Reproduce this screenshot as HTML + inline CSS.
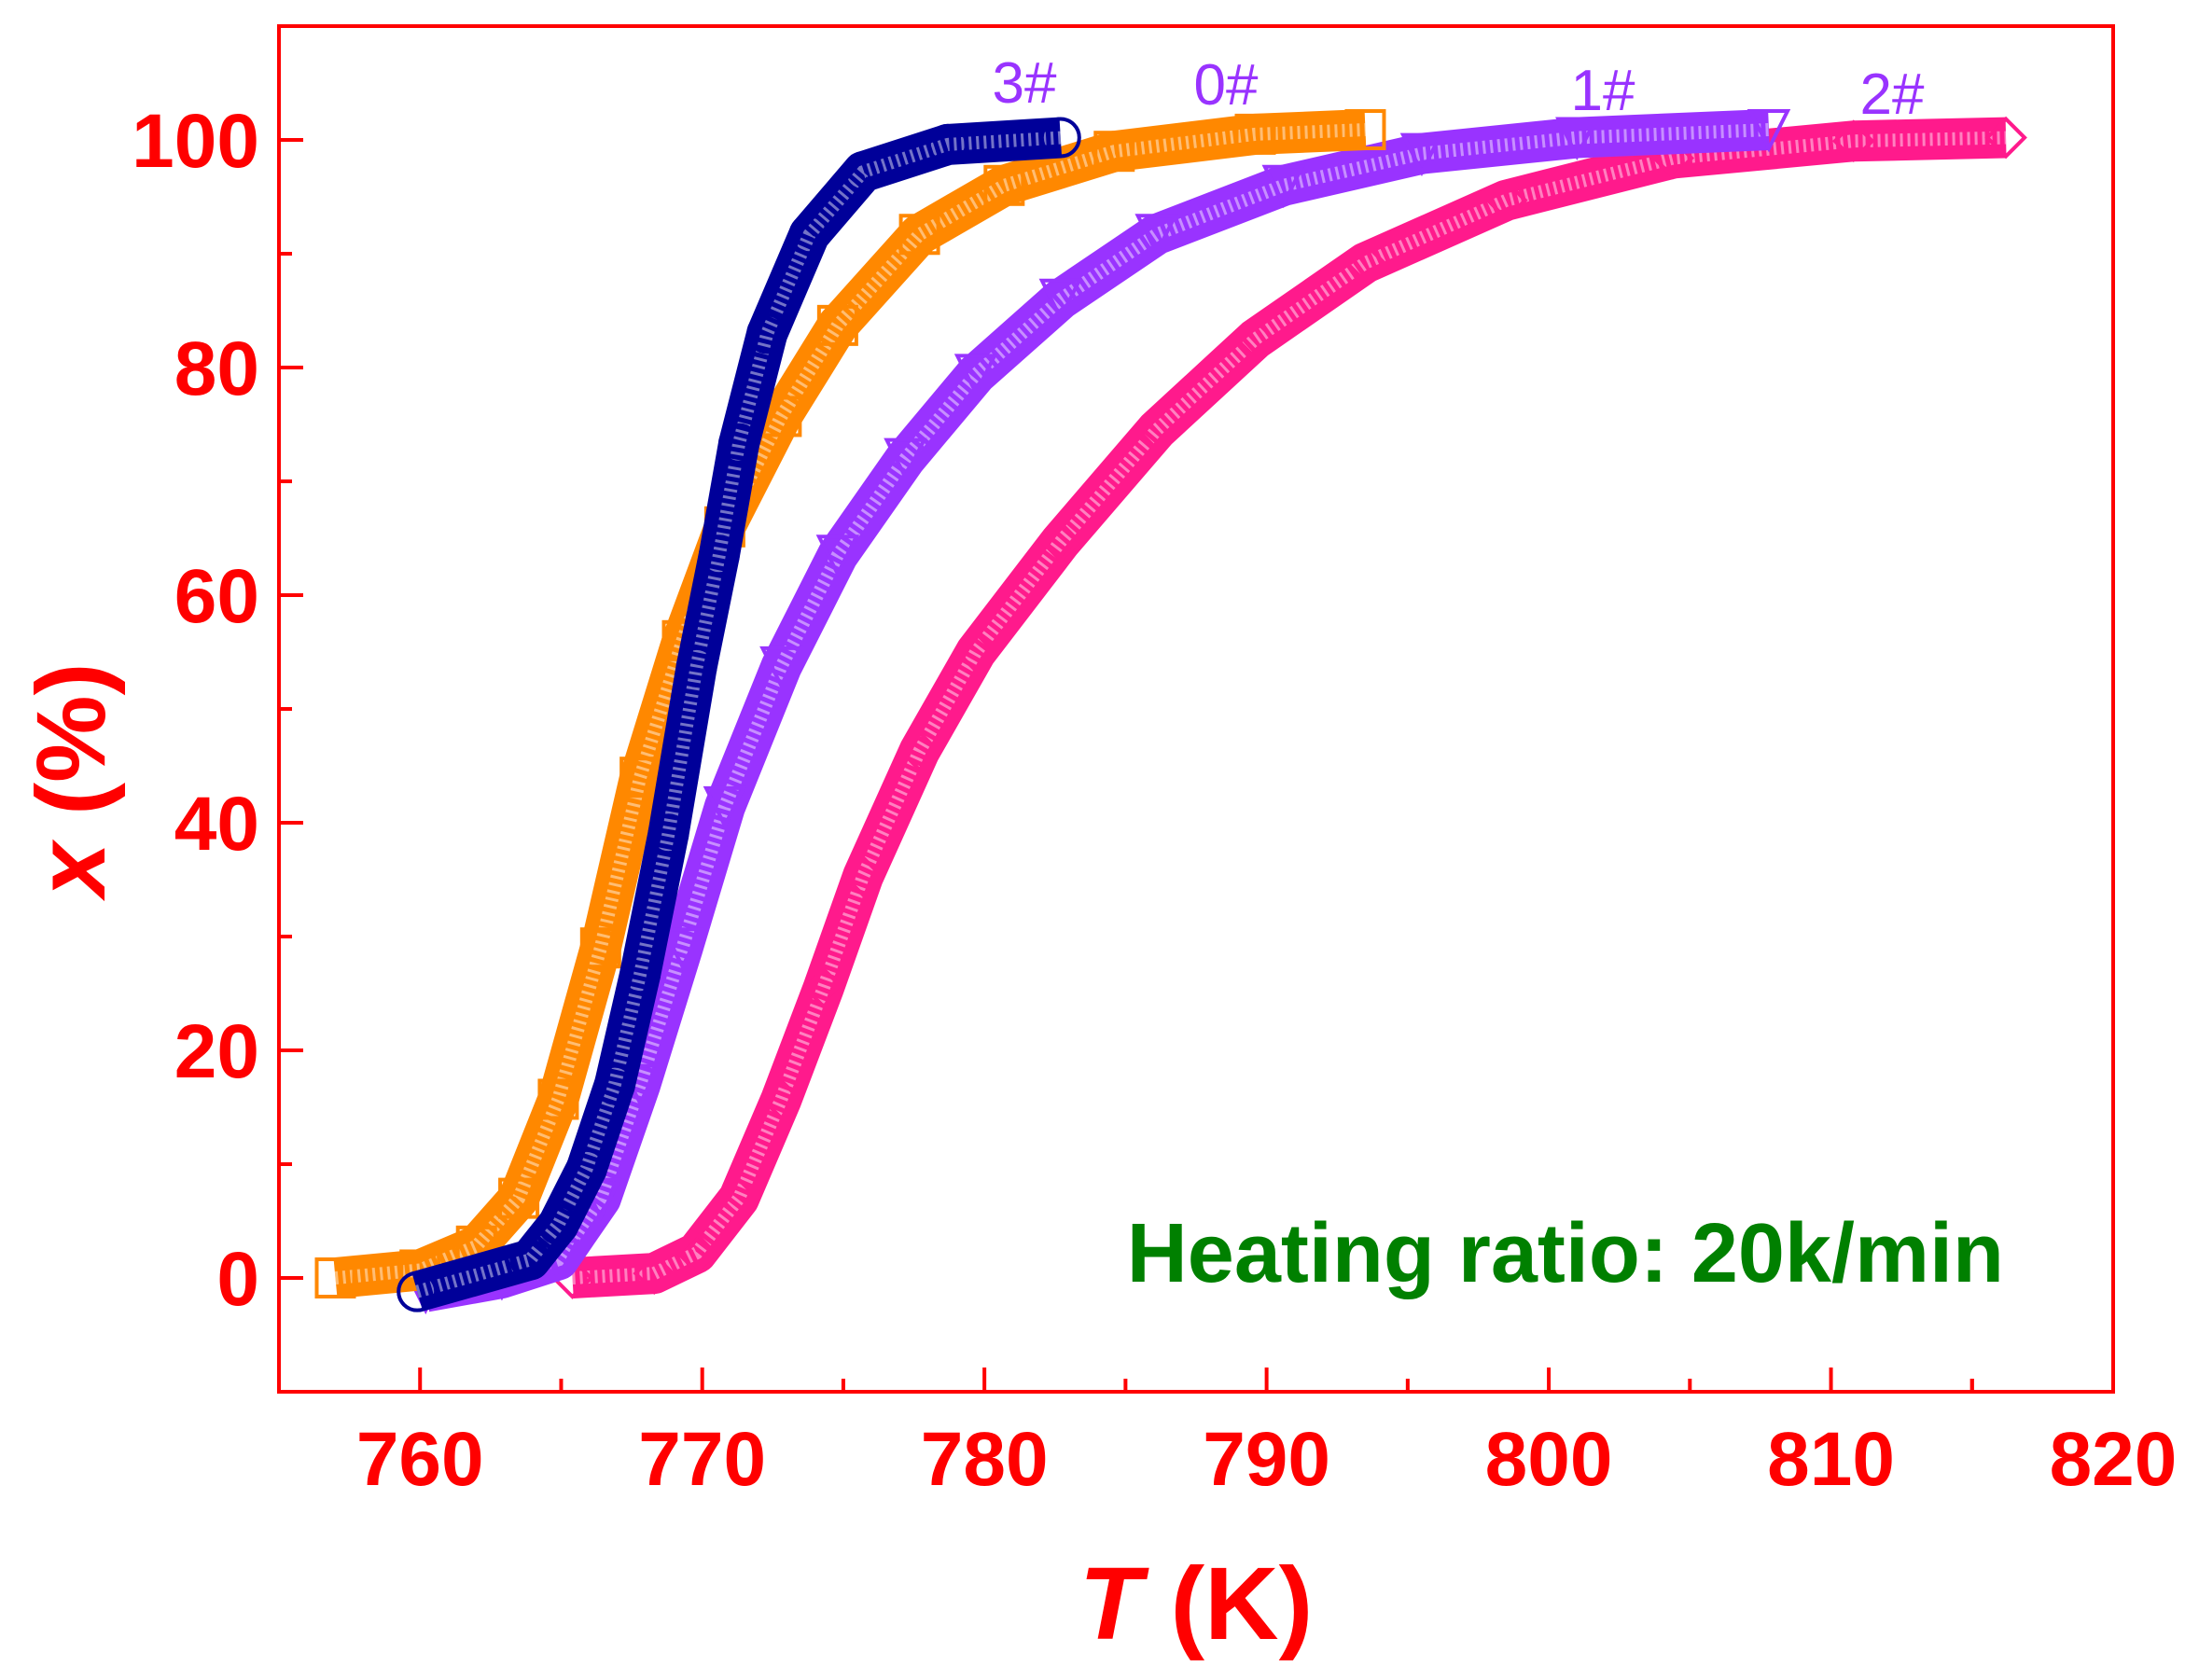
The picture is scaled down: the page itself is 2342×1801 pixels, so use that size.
<!DOCTYPE html>
<html><head><meta charset="utf-8"><style>
html,body{margin:0;padding:0;background:#fff;}
svg{display:block;font-family:"Liberation Sans",Arial,sans-serif;}
</style></head><body>
<svg id="chart" width="2342" height="1801" viewBox="0 0 2342 1801" xmlns="http://www.w3.org/2000/svg">
<rect x="0" y="0" width="2342" height="1801" fill="#fff"/>
<g id="series"></g>
<rect x="299" y="28" width="1966" height="1464" fill="none" stroke="#ff0000" stroke-width="4"/>
<g id="axes"></g>
<text transform="translate(112,836) rotate(-90)" text-anchor="middle" font-size="105" font-weight="bold" fill="#ff0000"><tspan font-style="italic">x</tspan> (%)</text>
<text x="1282" y="1757" text-anchor="middle" font-size="110" font-weight="bold" fill="#ff0000"><tspan font-style="italic">T</tspan> (K)</text>
<text x="2148" y="1374" text-anchor="end" font-size="90" font-weight="bold" fill="#008000">Heating ratio: 20k/min</text>
<text x="1098" y="110" text-anchor="middle" font-size="62" fill="#9933ff">3#</text>
<text x="1314" y="112" text-anchor="middle" font-size="62" fill="#9933ff">0#</text>
<text x="1718" y="118" text-anchor="middle" font-size="62" fill="#9933ff">1#</text>
<text x="2028" y="122" text-anchor="middle" font-size="62" fill="#9933ff">2#</text>
</svg>
<script>
const xTicks = [760, 770, 780, 790, 800, 810, 820];
const yTicks = [0, 20, 40, 60, 80, 100];
const t3 = [759.9,763.9,764.9,765.9,766.9,767.8,768.8,769.8,770.6,771.3,772.3,773.8,775.7,778.7,782.7];
const x3 = [-1.2,1.6,4.7,9.6,17,26.7,39,53.7,63.5,73.3,83,91.7,97.2,99.6,100.2];
const t0 = [757,760,762,763.5,764.9,766.4,767.8,769.3,770.8,772.8,774.8,777.7,780.7,784.6,789.6,793.5];
const x0 = [0,0.7,2.8,7,15.7,29,44,56,66,75.7,83.7,91.7,96,99,100.5,100.9];
const t1 = [760.2,762.9,764.9,766.4,767.8,769.3,770.8,772.8,774.8,777.2,779.7,782.7,786.1,790.6,795.5,801,807.8];
const x1 = [-1.2,0,1.6,7,17,29,41.4,53.7,63.5,72,79.4,86,91.7,96,98.8,100.2,100.9];
const t2 = [765.4,768.3,769.8,771.3,772.8,774.3,775.7,777.7,779.7,782.7,786.1,789.6,793.5,798.5,804.4,810.8,816.2];
const x2 = [0,0.4,2.2,7,15.7,25.5,35.3,46.3,55,64.7,74.5,82.5,89.2,94.7,98.4,99.9,100.2];

const NS = "http://www.w3.org/2000/svg";
const L = 299, R = 2265, T = 28, B = 1492;
const xMin = 755, xMax = 820, yMin = -10, yMax = 110;
function sx(v){ return L + (v - xMin) / (xMax - xMin) * (R - L); }
function sy(v){ return B - (v - yMin) / (yMax - yMin) * (B - T); }
function mk(tag, attrs, parent){
  const e = document.createElementNS(NS, tag);
  for (const k in attrs) e.setAttribute(k, attrs[k]);
  parent.appendChild(e);
  return e;
}
const axes = document.getElementById('axes');
xTicks.forEach(v => {
  const x = sx(v);
  const tk = mk('line', {x1:x, y1:B, x2:x, y2:B-26, stroke:'#ff0000', 'stroke-width':4}, axes);
  
  
  const mx = sx(v - 5);
  if (mx > L + 2) {
    const m = mk('line', {x1:mx, y1:B, x2:mx, y2:B-14, stroke:'#ff0000', 'stroke-width':4}, axes);
    
    
  }
  const lb = mk('text', {x:x, y:1592, 'text-anchor':'middle', 'font-size':82, 'font-weight':'bold', fill:'#ff0000'}, axes);
  lb.textContent = v;
  
  
});
{
  const mx = sx(815);
  const m = mk('line', {x1:mx, y1:B, x2:mx, y2:B-14, stroke:'#ff0000', 'stroke-width':4}, axes);
  
  
}
yTicks.forEach(v => {
  const y = sy(v);
  const tk = mk('line', {x1:L, y1:y, x2:L+26, y2:y, stroke:'#ff0000', 'stroke-width':4}, axes);
  
  
  [v - 10, v + 10].forEach(mv => {
    if (mv % 20 !== 0 && mv > yMin && mv < yMax) {
      const m = mk('line', {x1:L, y1:sy(mv), x2:L+14, y2:sy(mv), stroke:'#ff0000', 'stroke-width':4}, axes);
      
      
    }
  });
  const lb = mk('text', {x:278, y:y+29, 'text-anchor':'end', 'font-size':82, 'font-weight':'bold', fill:'#ff0000'}, axes);
  lb.textContent = v;
  
  
});

const series = document.getElementById('series');
function drawSeries(ts, xs, color, shape, name){
  const g = mk('g', {}, series);
  
  
  const pts = ts.map((t,i) => sx(t) + ',' + sy(xs[i])).join(' ');
  const band = mk('polyline', {points:pts, fill:'none', stroke:color, 'stroke-width':44, 'stroke-linejoin':'round', 'stroke-linecap':'butt'}, g);
  
  
  const inner = mk('polyline', {points:pts, fill:'none', stroke:'#fff', 'stroke-width':14, 'stroke-dasharray':'3 5', opacity:0.45}, g);
  
  
  ts.forEach((t,i) => {
    const x = sx(t), y = sy(xs[i]), s = 20;
    let m;
    if (shape === 'circle') m = mk('circle', {cx:x, cy:y, r:s}, g);
    else if (shape === 'square') m = mk('rect', {x:x-s, y:y-s, width:2*s, height:2*s}, g);
    else if (shape === 'down') m = mk('polygon', {points:`${x-s},${y-s} ${x+s},${y-s} ${x},${y+s}`}, g);
    else m = mk('polygon', {points:`${x},${y-s} ${x+s},${y} ${x},${y+s} ${x-s},${y}`}, g);
    m.setAttribute('fill', 'none');
    m.setAttribute('stroke', color);
    m.setAttribute('stroke-width', 4);
    
    
  });
}
drawSeries(t2, x2, '#ff1a8c', 'diamond', 'series-2');
drawSeries(t1, x1, '#9933ff', 'down', 'series-1');
drawSeries(t0, x0, '#ff8800', 'square', 'series-0');
drawSeries(t3, x3, '#000099', 'circle', 'series-3');
</script>
</body></html>
